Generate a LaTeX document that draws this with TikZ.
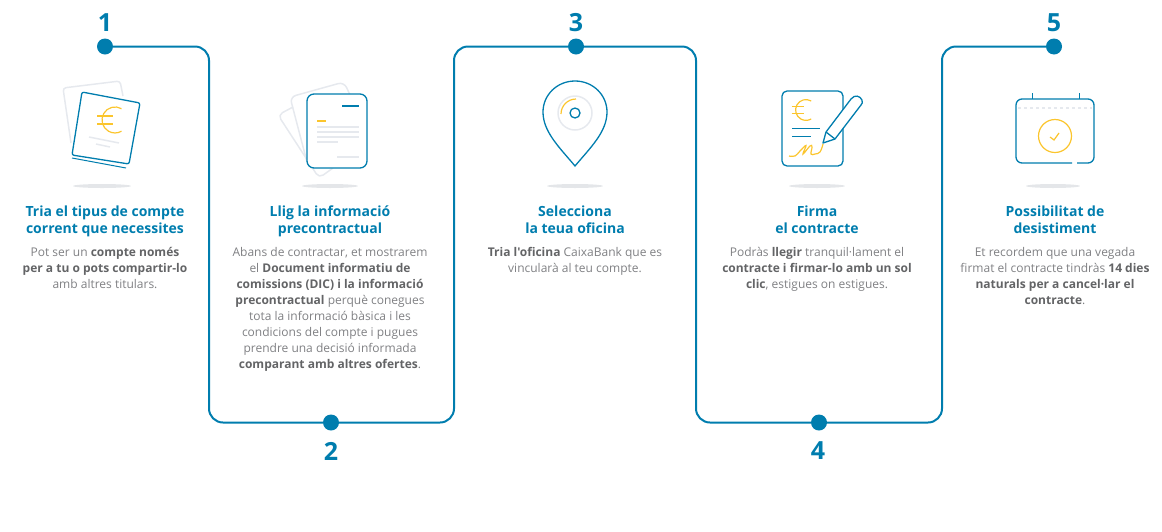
\documentclass[tikz,border=0pt]{standalone}
\usepackage{fontspec}
\setmainfont{Open Sans}
\newfontfamily\straightfont{Open Sans}
\definecolor{flowblue}{HTML}{007DAE}
\definecolor{lightgrey}{HTML}{E6E9EE}
\definecolor{shadowgrey}{HTML}{E4E6E9}
\definecolor{signyellow}{HTML}{FBC52D}
\definecolor{bodygrey}{HTML}{7F8083}
\definecolor{boldgrey}{HTML}{636466}
\newcommand{\bb}[1]{{\bfseries\color{boldgrey}#1}}
\newcommand{\euroicon}[3]{%
    \begin{scope}[shift={(#1,#2)},scale=#3]
    \draw[iconyellow] (6.5,-11.3) arc (-60:-300:13);
    \draw[iconyellow] (-18,-4) -- (-2,-4);
    \draw[iconyellow] (-18,4) -- (-2,4);
    \end{scope}}
\tikzset{
    flowline/.style={draw=flowblue,line width=2pt,rounded corners=14pt},
    flowdot/.style={circle,fill=flowblue,minimum size=16pt,inner sep=0pt},
    stepnum/.style={text=flowblue,font=\fontsize{25}{30}\selectfont\bfseries},
    steptitle/.style={anchor=north,align=center,text=flowblue,inner sep=0pt,font=\fontsize{14}{17}\selectfont\bfseries},
    stepbody/.style={anchor=north,align=center,text=bodygrey,inner sep=0pt,font=\fontsize{12}{16}\selectfont},
    iconblue/.style={draw=flowblue,line width=1.3pt},
    iconthin/.style={draw=flowblue,line width=1pt},
    icongrey/.style={draw=lightgrey,line width=1.5pt},
    iconyellow/.style={draw=signyellow,line width=1.2pt},
    floorshadow/.style={fill=shadowgrey,draw=none}
}
\begin{document}
\begin{tikzpicture}[x=1pt,y=-1pt]
    \useasboundingbox (0,0) rectangle (1162,531);
    % path
    \node[flowdot] (dot1) at (105,46.5) {};
    \node[flowdot] (dot2) at (331,422.5) {};
    \node[flowdot] (dot3) at (576,46.5) {};
    \node[flowdot] (dot4) at (819,422.5) {};
    \node[flowdot] (dot5) at (1054,46.5) {};
    \coordinate (c1) at (209,46.5);
    \coordinate (c2) at (209,422.5);
    \coordinate (c3) at (454,422.5);
    \coordinate (c4) at (454,46.5);
    \coordinate (c5) at (696,46.5);
    \coordinate (c6) at (696,422.5);
    \coordinate (c7) at (942,422.5);
    \coordinate (c8) at (942,46.5);
    \draw[flowline] (dot1) -- (c1) -- (c2) -- (dot2);
    \draw[flowline] (dot2) -- (c3) -- (c4) -- (dot3);
    \draw[flowline] (dot3) -- (c5) -- (c6) -- (dot4);
    \draw[flowline] (dot4) -- (c7) -- (c8) -- (dot5);
    \node[stepnum] (num1) at (105,23) {1};
    \node[stepnum] (num2) at (331,451) {2};
    \node[stepnum] (num3) at (576,23) {3};
    \node[stepnum] (num4) at (818,451) {4};
    \node[stepnum] (num5) at (1054,23) {5};
    % shadows
    \fill[floorshadow] (102,186) ellipse (29 and 2);
    \fill[floorshadow] (330,186) ellipse (28 and 2);
    \fill[floorshadow] (575,186) ellipse (28 and 2);
    \fill[floorshadow] (817,186) ellipse (28 and 2);
    \fill[floorshadow] (1053,186) ellipse (27 and 2);
    % icon 1
    \draw[icongrey,rounded corners=3pt] (71,143) -- (63,88) -- (120,81) -- (123,96);
    \draw[iconblue,rounded corners=2pt] (82,92) -- (140,103) -- (129,164) -- (72,155) -- cycle;
    \draw[iconthin] (72,158) -- (126,168);
    \euroicon{115}{120}{1}
    \draw[icongrey] (89,137) -- (119,143);
    \draw[icongrey] (96,144) -- (110,147);
    % icon 2
    \draw[icongrey,rounded corners=5pt] (293,107) -- (278,115) -- (319,178) -- (333,168);
    \draw[icongrey,rounded corners=6pt] (307,162) -- (290,97) -- (344,82) -- (351,97);
    \draw[iconblue,rounded corners=7pt,fill=white] (307,94) rectangle (367,168);
    \draw[iconblue] (342,106) -- (359,106);
    \draw[iconyellow] (317,121) -- (326,121);
    \draw[icongrey] (317,127) -- (359,127);
    \draw[icongrey] (317,132) -- (359,132);
    \draw[icongrey] (317,137) -- (359,137);
    \draw[icongrey] (317,142) -- (338,142);
    \draw[icongrey] (337,157) -- (359,157);
    % icon 3
    \draw[iconblue] (575,166) .. controls (560,148) and (543,132) .. (543,112)
        .. controls (543,95) and (557,81) .. (575,81)
        .. controls (593,81) and (607,95) .. (607,112)
        .. controls (607,132) and (590,148) .. (575,166) -- cycle;
    \draw[icongrey] (575,113) circle (17);
    \draw[iconblue] (575,113) circle (5);
    \draw[iconyellow] (561,114) arc (180:270:15);
    % icon 4
    \draw[iconblue,rounded corners=5pt] (782,91) rectangle (843,166);
    \euroicon{806}{110}{0.8}
    \draw[iconthin] (792,128) -- (820,128);
    \draw[iconthin] (792,136) -- (811,136);
    \draw[iconyellow] plot[smooth,tension=0.7] coordinates {(789,156) (795,156) (800,151) (806,145.5) (803,154) (810,146) (812,147) (811,154) (815,154) (820,152) (823,144)};
    \draw[iconblue,fill=white,line join=round] (823,143) -- (826,132) -- (851,99) .. controls (855,94) and (860,96) .. (862,100) .. controls (863,102) and (862,104) .. (861,105) -- (835,139) -- cycle;
    \draw[iconblue] (826,132) -- (835,139);
    % icon 5
    \draw[iconblue,rounded corners=6pt] (1072,163) -- (1016,163) -- (1016,99) -- (1094,99) -- (1094,163) -- (1077,163);
    \draw[iconthin] (1032,93) -- (1032,99);
    \draw[iconthin] (1079,93) -- (1079,99);
    \draw[icongrey,dashed] (1018,108) -- (1092,108);
    \draw[iconyellow] (1055,136) circle (16.5);
    \draw[iconyellow] (1050,137) -- (1054,140) -- (1059,133);
    % texts
    \node[steptitle] (title1) at (105,206) {Tria el tipus de compte\\corrent que necessites};
    \node[stepbody] (body1) at (105,247) {Pot ser un \bb{compte només}\\\bb{per a tu o pots compartir-lo}\\amb altres titulars.};
    \node[steptitle] (title2) at (330,206) {Llig la informació\\precontractual};
    \node[stepbody] (body2) at (330,247) {Abans de contractar, et mostrarem\\el \bb{Document informatiu de}\\\bb{comissions (DIC) i la informació}\\\bb{precontractual} perquè conegues\\tota la informació bàsica i les\\condicions del compte i pugues\\prendre una decisió informada\\\bb{comparant amb altres ofertes}.};
    \node[steptitle] (title3) at (575,206) {Selecciona\\la teua oficina};
    \node[stepbody] (body3) at (575,247) {\bb{\straightfont Tria l'oficina} CaixaBank que es\\vincularà al teu compte.};
    \node[steptitle] (title4) at (817,206) {Firma\\el contracte};
    \node[stepbody] (body4) at (817,247) {Podràs \bb{llegir} tranquil·lament el\\\bb{contracte i firmar-lo amb un sol}\\\bb{clic}, estigues on estigues.};
    \node[steptitle] (title5) at (1055,206) {Possibilitat de\\desistiment};
    \node[stepbody] (body5) at (1055,247) {Et recordem que una vegada\\firmat el contracte tindràs \bb{14 dies}\\\bb{naturals per a cancel·lar el}\\\bb{contracte}.};
\end{tikzpicture}
\end{document}
